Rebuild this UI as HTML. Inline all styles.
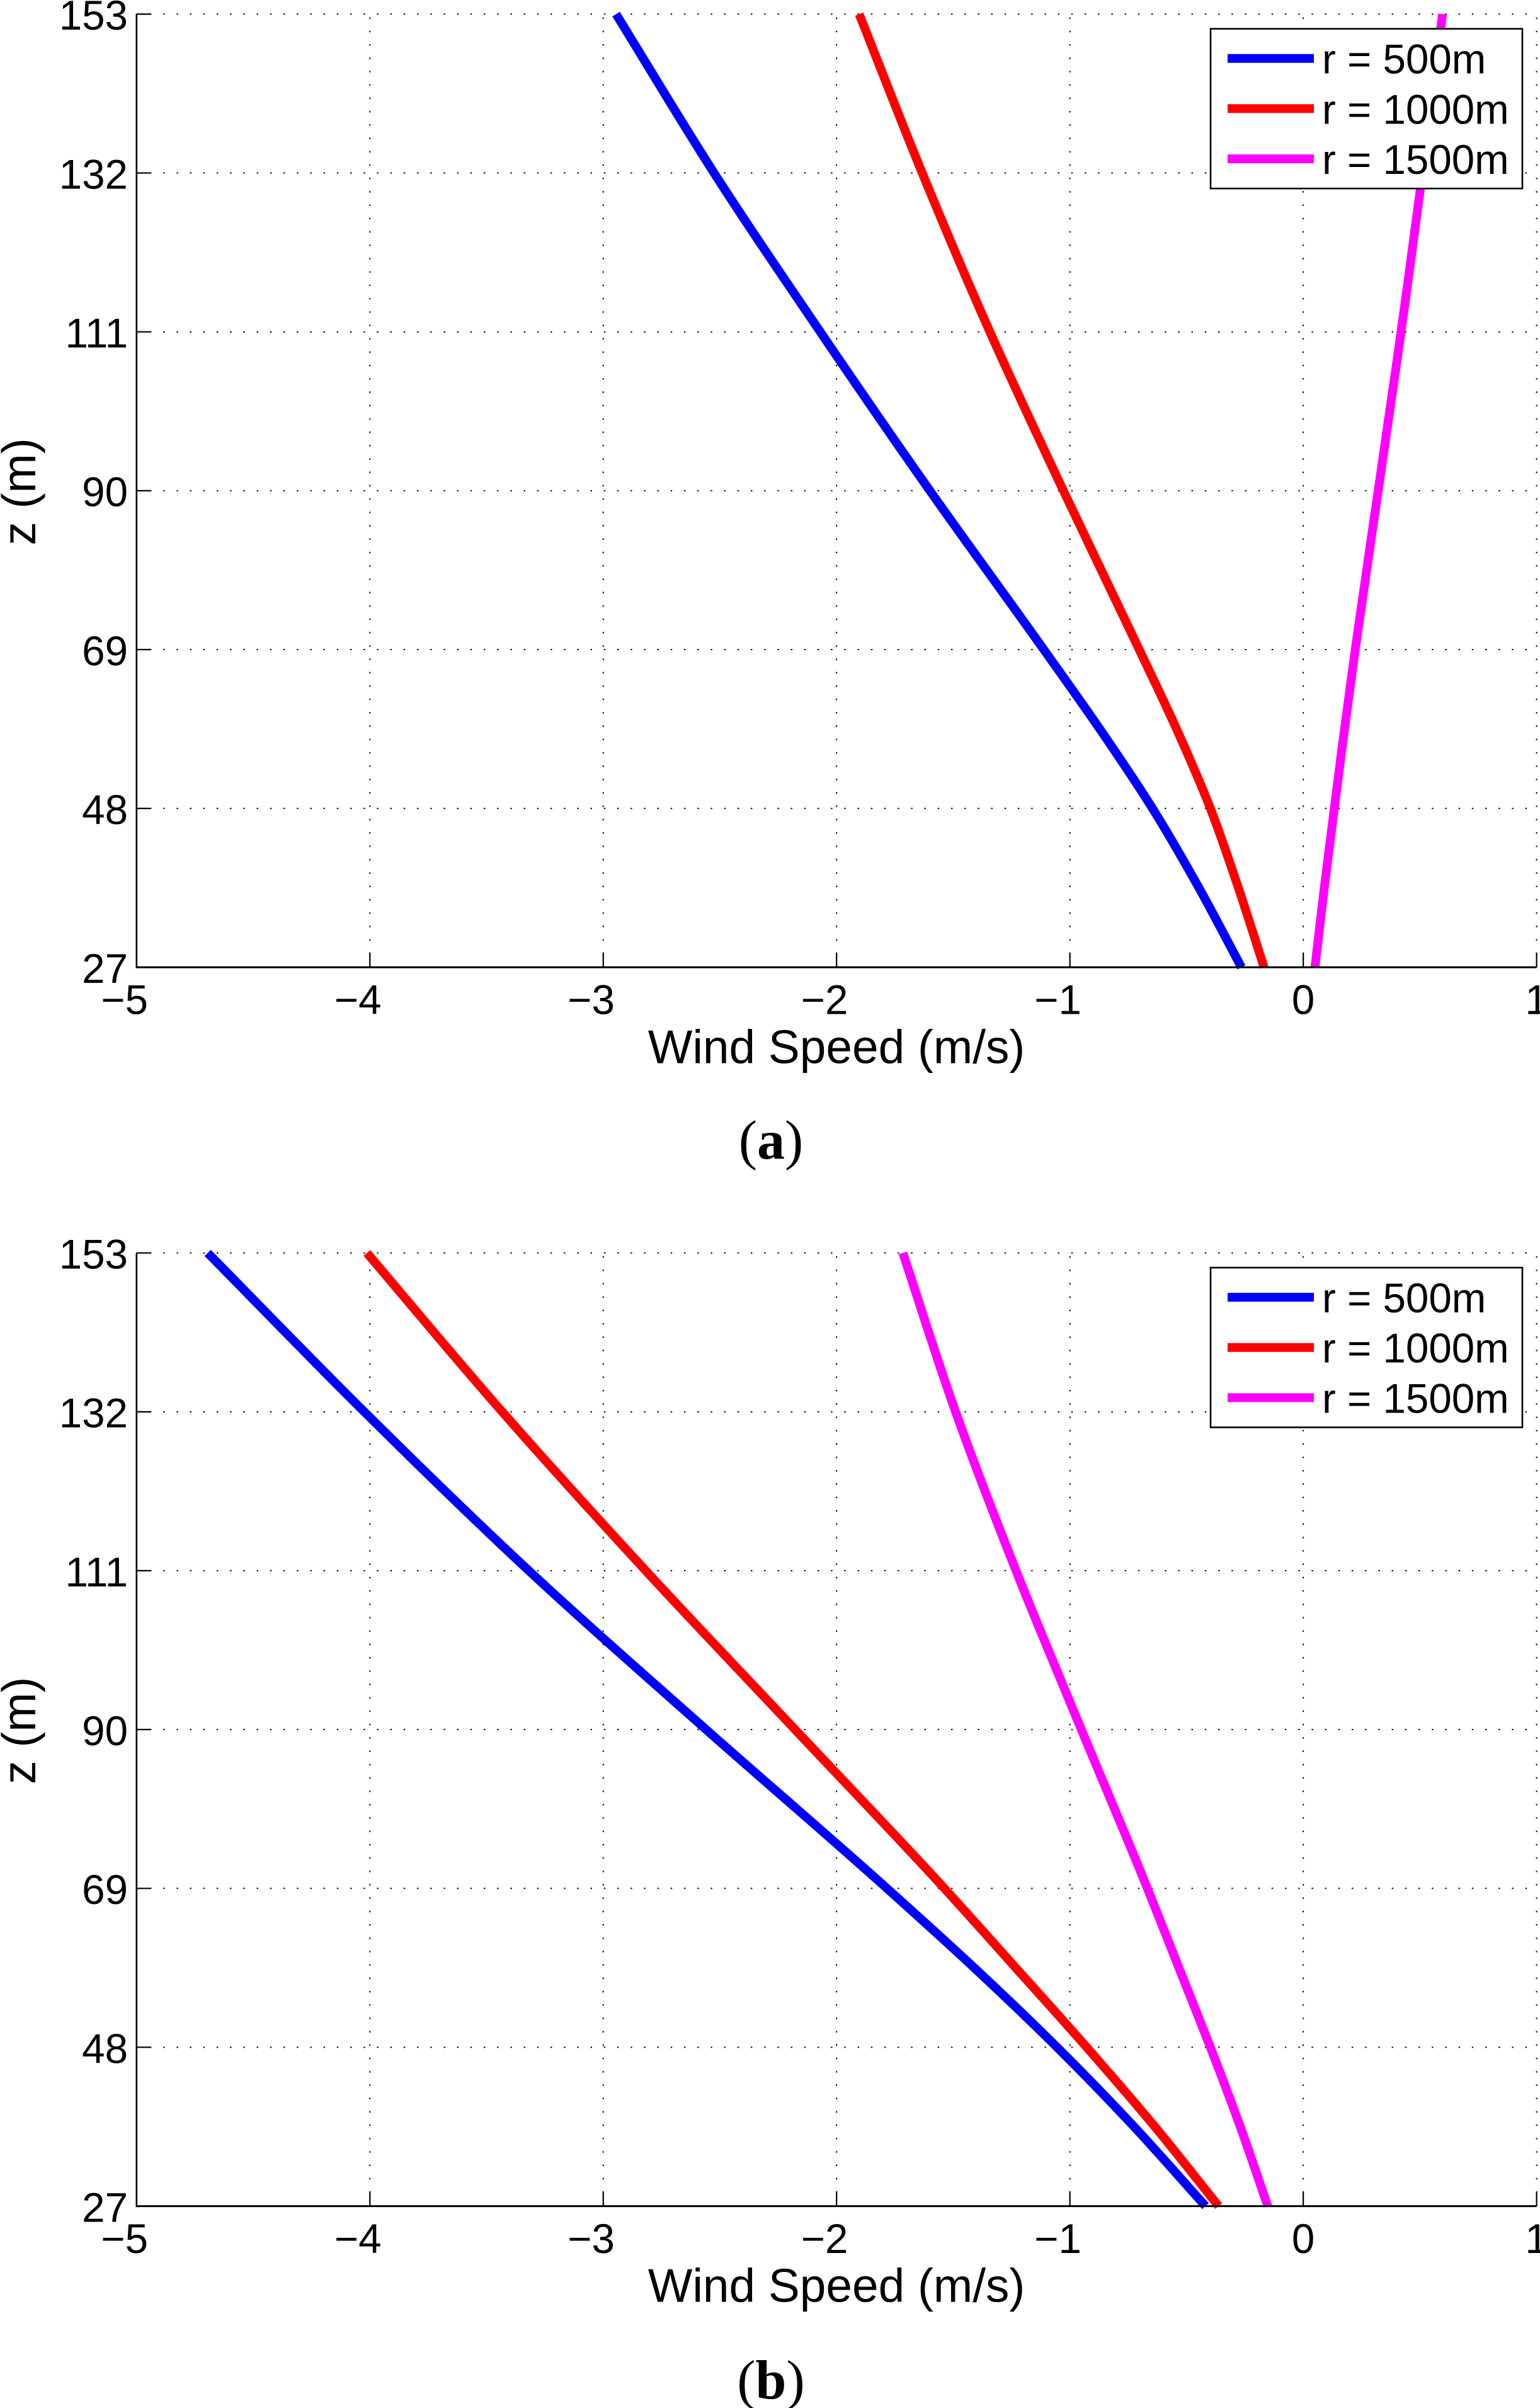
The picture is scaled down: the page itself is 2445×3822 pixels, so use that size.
<!DOCTYPE html>
<html lang="en">
<head>
<meta charset="utf-8">
<title>Wind speed profiles</title>
<style>
html,body{margin:0;padding:0;background:#fff;width:2445px;height:3822px;overflow:hidden}
svg{display:block}
text{fill:#000;font-family:"Liberation Sans",Arial,sans-serif}
.tick{font-size:65.5px}
.title{font-size:74.8px}
.cap{font-family:"Liberation Serif","Times New Roman",serif;font-size:88px}
.cap tspan.b{font-weight:bold}
</style>
</head>
<body>
<svg id="figure" xmlns="http://www.w3.org/2000/svg" width="2445" height="3822" viewBox="0 0 2445 3822">
  <rect x="0" y="0" width="2445" height="3822" fill="#fff"/>
  <text class="cap" x="1224" y="1839" text-anchor="middle">(<tspan class="b">a</tspan>)</text>
  <text class="cap" x="1224" y="3807" text-anchor="middle">(<tspan class="b">b</tspan>)</text>
</svg>
<script>
const heights = [27, 37.5, 48, 58.5, 69, 90, 111, 132, 153];
const xTickValues = [-5, -4, -3, -2, -1, 0, 1];
const xTickLabels = ["\u22125", "\u22124", "\u22123", "\u22122", "\u22121", "0", "1"];
const zTickValues = [27, 48, 69, 90, 111, 132, 153];
const zTickLabels = ["27", "48", "69", "90", "111", "132", "153"];
const seriesLabels = ["r = 500m", "r = 1000m", "r = 1500m"];
const seriesColors = ["#0000ff", "#ff0000", "#ff00ff"];

const panelA500 = [-0.265, -0.447, -0.646, -0.872, -1.112, -1.60, -2.07, -2.525, -2.945];
const panelA1000 = [-0.168, -0.278, -0.398, -0.543, -0.703, -1.028, -1.343, -1.633, -1.903];
const panelA1500 = [0.05, 0.09, 0.133, 0.177, 0.223, 0.321, 0.419, 0.511, 0.597];

const panelB500 = [-0.419, -0.725, -1.055, -1.41, -1.784, -2.559, -3.319, -4.024, -4.695];
const panelB1000 = [-0.363, -0.636, -0.928, -1.232, -1.538, -2.178, -2.818, -3.433, -4.013];
const panelB1500 = [-0.152, -0.27, -0.398, -0.533, -0.668, -0.951, -1.231, -1.49, -1.716];

const NS = "http://www.w3.org/2000/svg";
const root = document.getElementById("figure");
const X_LEFT = 216.8, X_RIGHT = 2439.6;
const PANEL_H = 1512.9, LEGEND_W = 495, LEGEND_H = 253.5;

function xScale(v) { return X_LEFT + (v + 5) / 6 * (X_RIGHT - X_LEFT); }
function zScale(z, top) { return top + (153 - z) / 126 * PANEL_H; }

function mk(tag, parent) {
  const el = document.createElementNS(NS, tag);
  parent.appendChild(el);
  return el;
}
function seg(parent, x1, y1, x2, y2, w) {
  const el = mk("line", parent);
  el.setAttribute("x1", x1);
  el.setAttribute("y1", y1);
  el.setAttribute("x2", x2);
  el.setAttribute("y2", y2);
  el.setAttribute("stroke", "#000");
  el.setAttribute("stroke-width", w);
  return el;
}
// Hermite spline of x as a function of y, tolerant of uneven y spacing.
function smoothPath(pts) {
  const n = pts.length;
  const slope = pts.map(function (p, i) {
    if (i === 0) return (pts[1][0] - p[0]) / (pts[1][1] - p[1]);
    if (i === n - 1) return (p[0] - pts[i - 1][0]) / (p[1] - pts[i - 1][1]);
    const h0 = p[1] - pts[i - 1][1], h1 = pts[i + 1][1] - p[1];
    const s0 = (p[0] - pts[i - 1][0]) / h0, s1 = (pts[i + 1][0] - p[0]) / h1;
    return (s0 * h1 + s1 * h0) / (h0 + h1);
  });
  let d = "M" + pts[0][0].toFixed(1) + " " + pts[0][1].toFixed(1);
  for (let i = 0; i < n - 1; i++) {
    const h = pts[i + 1][1] - pts[i][1];
    const c1x = pts[i][0] + slope[i] * h / 3, c1y = pts[i][1] + h / 3;
    const c2x = pts[i + 1][0] - slope[i + 1] * h / 3, c2y = pts[i + 1][1] - h / 3;
    d += "C" + c1x.toFixed(1) + " " + c1y.toFixed(1) + " " + c2x.toFixed(1) + " " + c2y.toFixed(1) + " " + pts[i + 1][0].toFixed(1) + " " + pts[i + 1][1].toFixed(1);
  }
  return d;
}

function drawPanel(key, top, series, legendX, legendY) {
  const bottom = top + PANEL_H;
  const g = mk("g", root);
  
  

  xTickValues.forEach(function (v, i) {
    if (v === -5) return;
    const gl = seg(g, xScale(v), bottom, xScale(v), top, 2);
    gl.setAttribute("stroke-dasharray", "2.4 18.8");
    
    
  });
  zTickValues.forEach(function (z) {
    if (z === 27) return;
    const gl = seg(g, X_LEFT, zScale(z, top), X_RIGHT, zScale(z, top), 2);
    gl.setAttribute("stroke-dasharray", "2.4 18.8");
    
    
  });

  series.forEach(function (vals, i) {
    const line = mk("path", g);
    const pts = vals.map(function (v, j) {
      return [xScale(v), zScale(heights[j], top)];
    });
    line.setAttribute("d", smoothPath(pts));
    line.setAttribute("fill", "none");
    line.setAttribute("stroke", seriesColors[i]);
    line.setAttribute("stroke-width", "14");
    line.setAttribute("stroke-linejoin", "round");
    
    
  });

  const yAxis = seg(g, X_LEFT, top, X_LEFT, bottom + 1.5, 2.6);
  
  
  const xAxis = seg(g, X_LEFT, bottom, X_RIGHT, bottom, 3);
  
  

  xTickValues.forEach(function (v, i) {
    const t = seg(g, xScale(v), bottom, xScale(v), bottom - 23, 2.2);
    
    
    const label = mk("text", g);
    label.setAttribute("class", "tick");
    label.setAttribute("x", (xScale(v) + 18.2).toFixed(1));
    label.setAttribute("y", (bottom + 74.4).toFixed(1));
    label.setAttribute("text-anchor", "end");
    label.textContent = xTickLabels[i];
    
    
  });
  zTickValues.forEach(function (z, i) {
    const t = seg(g, X_LEFT, zScale(z, top), X_LEFT + 22, zScale(z, top), 2.2);
    
    
    const label = mk("text", g);
    label.setAttribute("class", "tick");
    label.setAttribute("x", "203");
    label.setAttribute("y", (zScale(z, top) + 24.8).toFixed(1));
    label.setAttribute("text-anchor", "end");
    label.textContent = zTickLabels[i];
    
    
  });

  const xTitle = mk("text", g);
  xTitle.setAttribute("class", "title");
  xTitle.setAttribute("x", "1328");
  xTitle.setAttribute("y", (bottom + 152).toFixed(1));
  xTitle.setAttribute("text-anchor", "middle");
  xTitle.textContent = "Wind Speed (m/s)";
  
  

  const zY = top + 758;
  const zTitle = mk("text", g);
  zTitle.setAttribute("class", "title");
  zTitle.setAttribute("x", "56");
  zTitle.setAttribute("y", zY.toFixed(1));
  zTitle.setAttribute("text-anchor", "middle");
  zTitle.setAttribute("transform", "rotate(-90 56 " + zY.toFixed(1) + ")");
  zTitle.textContent = "z (m)";
  
  

  const lg = mk("g", g);
  
  
  const box = mk("rect", lg);
  box.setAttribute("x", legendX);
  box.setAttribute("y", legendY);
  box.setAttribute("width", LEGEND_W);
  box.setAttribute("height", LEGEND_H);
  box.setAttribute("fill", "#fff");
  box.setAttribute("stroke", "#000");
  box.setAttribute("stroke-width", "2.6");
  
  
  seriesLabels.forEach(function (name, i) {
    const sy = legendY + 47 + i * 79.7;
    const sw = mk("line", lg);
    sw.setAttribute("x1", legendX + 27);
    sw.setAttribute("x2", legendX + 164);
    sw.setAttribute("y1", sy);
    sw.setAttribute("y2", sy);
    sw.setAttribute("stroke", seriesColors[i]);
    sw.setAttribute("stroke-width", "14");
    
    
    const tx = mk("text", lg);
    tx.setAttribute("class", "tick");
    tx.setAttribute("x", legendX + 177);
    tx.setAttribute("y", sy + 24);
    tx.textContent = name;
    
    
  });
}

drawPanel("a", 22.4, [panelA500, panelA1000, panelA1500], 1922, 45.7);
drawPanel("b", 1988.7, [panelB500, panelB1000, panelB1500], 1922, 2012);
</script>
</body>
</html>
